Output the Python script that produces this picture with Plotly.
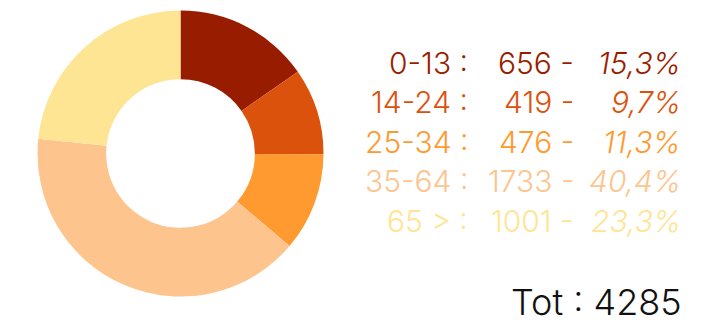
import plotly.graph_objects as go

W, H = 719, 320

labels = ["0-13", "14-24", "25-34", "35-64", "65 >"]
counts = [656, 419, 476, 1733, 1001]
percents = ["15,3%", "9,7%", "11,3%", "40,4%", "23,3%"]
colors = ["#981d00", "#db520d", "#fe9a2f", "#fec48e", "#fee593"]
total_label = "Tot : 4285"

fig = go.Figure()
cx, cy, r = 180.5, 153.5, 143
fig.add_trace(go.Pie(
    labels=labels, values=counts, sort=False, direction="clockwise", rotation=0,
    hole=0.52, textinfo="none", hoverinfo="label+value+percent",
    marker=dict(colors=colors, line=dict(width=0)),
    domain=dict(x=[(cx - r) / W, (cx + r) / W], y=[(H - cy - r) / H, (H - cy + r) / H]),
    showlegend=False,
))

font_family = "Inter"
fs = 30
row_y0, row_dy = 62.5, 39.5
annotations = []
for i, (lab, c, p, col) in enumerate(zip(labels, counts, percents, colors)):
    y = 1 - (row_y0 + i * row_dy) / H
    annotations.append(dict(x=470 / W, y=y, xref="paper", yref="paper", text=f"{lab} :",
                            xanchor="right", yanchor="middle", showarrow=False,
                            font=dict(family=font_family, size=fs, color=col, weight=300)))
    annotations.append(dict(x=576 / W, y=y, xref="paper", yref="paper", text=f"{c} -",
                            xanchor="right", yanchor="middle", showarrow=False,
                            font=dict(family=font_family, size=fs, color=col, weight=300)))
    annotations.append(dict(x=683 / W, y=y, xref="paper", yref="paper", text=f"<i>{p}</i>",
                            xanchor="right", yanchor="middle", showarrow=False,
                            font=dict(family=font_family, size=fs, color=col, weight=300)))
annotations.append(dict(x=684 / W, y=1 - 302 / H, xref="paper", yref="paper", text=total_label,
                        xanchor="right", yanchor="middle", showarrow=False,
                        font=dict(family=font_family, size=36, color="#111111", weight=300)))

fig.update_layout(width=W, height=H, margin=dict(l=0, r=0, t=0, b=0),
                  paper_bgcolor="white", plot_bgcolor="white", annotations=annotations)
fig.write_html("out.html", config={"displayModeBar": False},
               post_script="document.body.style.margin='0';")
